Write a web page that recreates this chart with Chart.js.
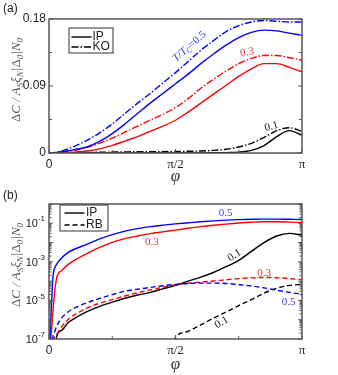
<!DOCTYPE html>
<html>
<head>
<meta charset="utf-8">
<script src="https://cdn.jsdelivr.net/npm/chart.js@4.4.1/dist/chart.umd.min.js"></script>
<style>
  body { margin: 0; background: #fff; }
  #wrap { position: relative; width: 338px; height: 375px; overflow: hidden; background: #fff; }
  canvas { position: absolute; left: 0; }
  .painel { position: absolute; left: 3px; font: 12px 'Liberation Sans', Arial, sans-serif; color: #222; }
  .ytitulo { position: absolute; width: 170px; height: 16px; line-height: 16px; text-align: center;
    font: italic 13px 'Liberation Serif', serif; color: #555; transform: rotate(-90deg); white-space: nowrap; }
  .ytitulo sub { font-size: 9px; vertical-align: -3px; }
  .up { font-style: normal; }
</style>
</head>
<body>
<div id="wrap">
  <canvas id="graficoA" width="338" height="187" style="top:0"></canvas>
  <canvas id="graficoB" width="338" height="188" style="top:187px"></canvas>
  <div class="painel" style="top:1px">(a)</div>
  <div class="painel" style="top:188px">(b)</div>
  <div class="ytitulo" style="left:-69px;top:72px"><span class="up">Δ</span>C / A<sub>S</sub>ξ<sub>N</sub>|<span class="up">Δ</span><sub>0</sub>|N<sub>0</sub></div>
  <div class="ytitulo" style="left:-69px;top:257px"><span class="up">Δ</span>C / A<sub>S</sub>ξ<sub>N</sub>|<span class="up">Δ</span><sub>0</sub>|N<sub>0</sub></div>
</div>
<script>
// fase φ em unidades de π
const phi = [0, 0.005, 0.01, 0.015, 0.02, 0.03, 0.05, 0.075, 0.1, 0.15, 0.2, 0.25, 0.3, 0.35,
  0.4, 0.45, 0.5, 0.55, 0.6, 0.65, 0.7, 0.75, 0.8, 0.85, 0.9, 0.95, 1];

// IP (usado nos dois painéis), T/Tc = 0.5, 0.3, 0.1
const ip05 = [0, 2.5e-7, 6e-6, 1.3e-4, 3.8e-4, 7.4e-4, 1.6e-3, 3.0e-3, 4.5e-3, 8.1e-3, 0.0155, 0.026, 0.039,
  0.053, 0.067, 0.080, 0.093, 0.106, 0.120, 0.133, 0.145, 0.155, 0.162, 0.165, 0.164, 0.161, 0.158];
const ip03 = [0, 3e-8, 3e-7, 2e-6, 1.3e-5, 1.4e-4, 3.5e-4, 7.2e-4, 1.2e-3, 2.7e-3, 5.6e-3, 0.0102, 0.016,
  0.022, 0.029, 0.036, 0.044, 0.055, 0.067, 0.079, 0.091, 0.103, 0.113, 0.120, 0.120, 0.115, 0.109];
const ip01 = [0, 0, 0, 0, 0, 1.3e-7, 2.8e-7, 6.9e-7, 1.15e-6, 2.6e-6, 4.9e-6, 8.1e-6, 1.3e-5, 1.9e-5,
  2.6e-5, 4.0e-5, 6.0e-5, 1.0e-4, 1.6e-4, 2.8e-4, 5.6e-4, 1.2e-3, 3.5e-3, 0.010, 0.022, 0.030, 0.024];

// KO (painel a)
const ko05 = [0, 0, 1e-4, 2e-4, 4e-4, 9e-4, 0.0025, 0.0055, 0.009, 0.017, 0.027, 0.039, 0.053, 0.067,
  0.080, 0.094, 0.108, 0.123, 0.138, 0.151, 0.163, 0.171, 0.176, 0.178, 0.177, 0.176, 0.176];
const ko03 = [0, 0, 0, 1e-4, 2e-4, 4e-4, 0.001, 0.002, 0.0035, 0.0075, 0.013, 0.020, 0.028, 0.036,
  0.044, 0.052, 0.061, 0.073, 0.087, 0.099, 0.110, 0.120, 0.127, 0.131, 0.131, 0.128, 0.125];
const ko01 = [0, 0, 0, 0, 0, 1e-4, 2e-4, 3e-4, 5e-4, 8e-4, 0.001, 0.0013, 0.0015, 0.0017,
  0.0018, 0.0019, 0.002, 0.0023, 0.0027, 0.0035, 0.005, 0.008, 0.013, 0.021, 0.030, 0.034, 0.029];

// RB (painel b)
const rb05 = [0, 0, 0, 1.1e-7, 2e-7, 4.5e-7, 1.26e-6, 2.5e-6, 4e-6, 7.6e-6, 1.26e-5, 2e-5, 3e-5, 3.8e-5,
  4.7e-5, 5.8e-5, 6.8e-5, 7.6e-5, 7.9e-5, 7.9e-5, 7.6e-5, 6.6e-5, 5.6e-5, 4.5e-5, 3.4e-5, 2.6e-5, 2.1e-5];
const rb03 = [0, 0, 0, 0, 1e-7, 1.8e-7, 4.3e-7, 1e-6, 1.8e-6, 4e-6, 7.1e-6, 1.1e-5, 1.7e-5, 2.5e-5,
  3.5e-5, 4.8e-5, 6.6e-5, 7.8e-5, 8.8e-5, 1.02e-4, 1.17e-4, 1.35e-4, 1.48e-4, 1.55e-4, 1.51e-4, 1.35e-4, 1.2e-4];
const rb01 = [0, 0, 0, 0, 0, 0, 0, 0, 0, 0, 0, 0, 0, 0,
  0, 0, 1.2e-7, 2.5e-7, 5.4e-7, 1.2e-6, 2.5e-6, 5.4e-6, 1.1e-5, 2.4e-5, 4.3e-5, 6e-5, 6.8e-5];

// eixos
const xTickValues = [0, 0.5, 1];
const xTickLabels = ['0', 'π/2', 'π'];
const yTickValuesA = [0, 0.09, 0.18];
const yTickLabelsA = ['0', '0.09', '0.18'];
const yTickValuesB = [1e-7, 1e-5, 1e-3, 1e-1];
const yTickExpB = ['-7', '-5', '-3', '-1'];
const legendaA = ['IP', 'KO'];
const legendaB = ['IP', 'RB'];

const SANS = "'Liberation Sans', Arial, sans-serif";
const SERIF = "'Liberation Serif', 'Times New Roman', serif";
const AZUL = '#0000ff', VERMELHO = '#ff0000', PRETO = '#000000';
const TRACO_PONTO = [7, 2, 1.5, 2];
const TRACEJADO = [5, 3];

// no log, zero vira um valor bem abaixo do eixo (cortado pela área)
const pontos = (vals, log) => phi.map((p, i) => ({ x: p, y: log && vals[i] === 0 ? 1e-9 : vals[i] }));

const serie = (vals, cor, dash, log) => ({
  data: pontos(vals, log),
  borderColor: cor,
  borderWidth: 1.4,
  borderDash: dash || [],
  pointRadius: 0,
  fill: false,
  cubicInterpolationMode: 'monotone'
});

const eixoX = altura => ({
  type: 'linear', min: 0, max: 1,
  grid: { display: false, drawTicks: false },
  border: { display: false },
  afterBuildTicks: s => { s.ticks = xTickValues.map(v => ({ value: v })); },
  afterFit: s => { s.height = altura; },
  ticks: {
    padding: 4, maxRotation: 0, autoSkip: false, color: '#222',
    font: c => (c.tick && c.tick.value === 0) ? { family: SANS, size: 12 } : { family: SERIF, size: 13 },
    callback: (v, i) => xTickLabels[i]
  },
  title: { display: true, text: 'φ', color: '#333', padding: { top: 0, bottom: 0 },
    font: { family: SERIF, size: 17, style: 'italic' } }
});

// moldura, tracinhos para dentro, legenda e rótulos das curvas
function molduraPlugin(cfg) {
  return {
    id: 'moldura',
    afterDatasetsDraw(chart) {
      const { ctx, chartArea: a, scales: { x, y } } = chart;
      ctx.save();
      ctx.strokeStyle = '#555';
      ctx.lineWidth = 1;
      const traco = (px, py, dx, dy) => {
        ctx.beginPath(); ctx.moveTo(px, py); ctx.lineTo(px + dx, py + dy); ctx.stroke();
      };
      cfg.xTicks.forEach(([v, len]) => { const p = x.getPixelForValue(v); traco(p, a.bottom, 0, -len); });
      cfg.yTicks.forEach(([v, len]) => {
        const p = y.getPixelForValue(v);
        traco(a.left, p, len, 0); traco(a.right, p, -len, 0);
      });
      ctx.lineWidth = 1.5;
      ctx.strokeRect(a.left, a.top, a.right - a.left, a.bottom - a.top);

      // legenda
      const L = cfg.legenda;
      const lx = a.left + L.dx, ly = a.top + L.dy;
      ctx.lineWidth = 1; ctx.strokeStyle = '#333';
      ctx.strokeRect(lx, ly, L.w, L.h);
      ctx.font = '12px ' + SANS; ctx.fillStyle = '#222'; ctx.textBaseline = 'middle';
      L.itens.forEach((txt, i) => {
        const yy = ly + L.linhas[i];
        ctx.strokeStyle = '#000'; ctx.lineWidth = 1.4; ctx.setLineDash(L.dashes[i]);
        traco(lx + L.x0, yy, L.x1 - L.x0, 0);
        ctx.setLineDash([]);
        ctx.fillText(txt, lx + L.tx, yy);
      });

      // rótulos log do eixo y
      if (cfg.logLabels) {
        cfg.logLabels.valores.forEach((v, i) => {
          const p = y.getPixelForValue(v);
          ctx.font = '8px ' + SANS;
          const we = ctx.measureText(cfg.logLabels.exps[i]).width;
          const xr = a.left - 4;
          ctx.textAlign = 'right'; ctx.fillStyle = '#222';
          ctx.fillText(cfg.logLabels.exps[i], xr, p - 4);
          ctx.font = '11px ' + SANS;
          ctx.fillText('10', xr - we, p + 1);
          ctx.textAlign = 'left';
        });
      }

      // rótulos das curvas
      cfg.notas.forEach(n => {
        const px = x.getPixelForValue(n.x), py = y.getPixelForValue(n.y);
        ctx.save();
        ctx.translate(px, py); ctx.rotate(n.rot * Math.PI / 180);
        ctx.fillStyle = n.cor; ctx.textBaseline = 'middle';
        const fonte = p => (p.it ? 'italic ' : '') + (p.sub ? 8 : 11) + 'px ' + SERIF;
        let w = 0;
        n.partes.forEach(p => { ctx.font = fonte(p); w += ctx.measureText(p.t).width; });
        let cx = -w / 2;
        n.partes.forEach(p => {
          ctx.font = fonte(p);
          ctx.fillText(p.t, cx, p.sub ? 3 : 0);
          cx += ctx.measureText(p.t).width;
        });
        ctx.restore();
      });
      ctx.restore();
    }
  };
}

const ticksXA = [[0, 4], [0.25, 3], [0.5, 4], [0.75, 3], [1, 4]];

// ---- painel (a)
new Chart(document.getElementById('graficoA'), {
  type: 'line',
  data: {
    datasets: [
      serie(ip05, AZUL), serie(ko05, AZUL, TRACO_PONTO),
      serie(ip03, VERMELHO), serie(ko03, VERMELHO, TRACO_PONTO),
      serie(ip01, PRETO), serie(ko01, PRETO, TRACO_PONTO)
    ]
  },
  options: {
    responsive: false,
    animation: false,
    layout: { padding: { top: 19, right: 36, left: 0, bottom: 0 } },
    plugins: { legend: { display: false }, tooltip: { enabled: false } },
    scales: {
      x: eixoX(34),
      y: {
        type: 'linear', min: 0, max: 0.18,
        grid: { display: false, drawTicks: false },
        border: { display: false },
        afterBuildTicks: s => { s.ticks = yTickValuesA.map(v => ({ value: v })); },
        afterFit: s => { s.width = 49; },
        ticks: { padding: 3, color: '#222', font: { family: SANS, size: 12 },
          callback: (v, i) => yTickLabelsA[i] }
      }
    }
  },
  plugins: [molduraPlugin({
    xTicks: ticksXA,
    yTicks: [[0, 4], [0.045, 3], [0.09, 4], [0.135, 3], [0.18, 4]],
    legenda: { dx: 20, dy: 9, w: 44, h: 25, linhas: [9, 19], x0: 2.5, x1: 22.5, tx: 23.5,
      itens: legendaA, dashes: [[], TRACO_PONTO] },
    notas: [
      { partes: [{ t: 'T/T', it: true }, { t: 'C', it: true, sub: true }, { t: '=0.5' }],
        x: 0.555, y: 0.143, rot: -41, cor: '#3b3bf0' },
      { partes: [{ t: '0.3' }], x: 0.783, y: 0.135, rot: -10, cor: '#f03030' },
      { partes: [{ t: '0.1' }], x: 0.879, y: 0.0356, rot: -15, cor: '#111' }
    ]
  })]
});

// ---- painel (b)
const ticksYB = [];
for (let d = -7; d <= 0; d++) {
  ticksYB.push([Math.pow(10, d), 4]);
  if (d < 0) for (let m = 2; m <= 9; m++) ticksYB.push([m * Math.pow(10, d), 2.5]);
}

new Chart(document.getElementById('graficoB'), {
  type: 'line',
  data: {
    datasets: [
      serie(ip05, AZUL, null, true), serie(rb05, AZUL, TRACEJADO, true),
      serie(ip03, VERMELHO, null, true), serie(rb03, VERMELHO, TRACEJADO, true),
      serie(ip01, PRETO, null, true), serie(rb01, PRETO, TRACEJADO, true)
    ]
  },
  options: {
    responsive: false,
    animation: false,
    layout: { padding: { top: 17, right: 36, left: 0, bottom: 0 } },
    plugins: { legend: { display: false }, tooltip: { enabled: false } },
    scales: {
      x: eixoX(36),
      y: {
        type: 'logarithmic', min: 1e-7, max: 1,
        grid: { display: false, drawTicks: false },
        border: { display: false },
        afterBuildTicks: s => { s.ticks = yTickValuesB.map(v => ({ value: v })); },
        afterFit: s => { s.width = 49; },
        ticks: { display: false }
      }
    }
  },
  plugins: [molduraPlugin({
    xTicks: ticksXA,
    yTicks: ticksYB,
    logLabels: { valores: yTickValuesB, exps: yTickExpB },
    legenda: { dx: 11, dy: 1, w: 48, h: 26, linhas: [8, 20], x0: 4.5, x1: 24.5, tx: 26,
      itens: legendaB, dashes: [[], TRACEJADO] },
    notas: [
      { partes: [{ t: '0.5' }], x: 0.698, y: 0.32, rot: 0, cor: '#3b3bf0' },
      { partes: [{ t: '0.3' }], x: 0.407, y: 0.0112, rot: 0, cor: '#f03030' },
      { partes: [{ t: '0.1' }], x: 0.733, y: 2.2e-3, rot: -33, cor: '#111' },
      { partes: [{ t: '0.3' }], x: 0.85, y: 2.5e-4, rot: 0, cor: '#f03030' },
      { partes: [{ t: '0.5' }], x: 0.947, y: 7.8e-6, rot: 0, cor: '#3b3bf0' },
      { partes: [{ t: '0.1' }], x: 0.682, y: 7.2e-7, rot: -30, cor: '#111' }
    ]
  })]
});
</script>
</body>
</html>
